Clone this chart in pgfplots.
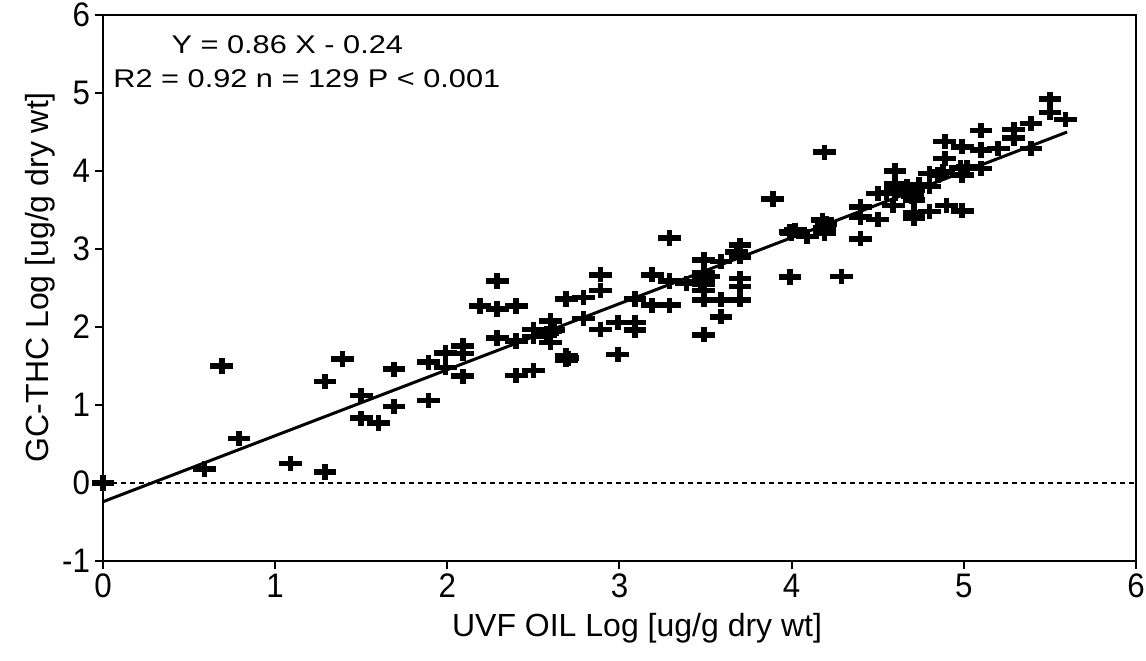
\documentclass[border=0pt]{standalone}
\usepackage{pgfplots}
\pgfplotsset{compat=1.18}
\usepackage{fontspec}
\setmainfont{Liberation Sans}
\newfontfamily\annfont{Liberation Sans}[FakeStretch=1.2]
\newfontfamily\tickfont{Liberation Sans}[FakeStretch=0.92]
\begin{document}
\begin{tikzpicture}
\begin{axis}[
  at={(0,0)}, anchor=south west,
  scale only axis, width=516.5pt, height=273pt,
  xmin=0, xmax=6, ymin=-1, ymax=6,
  xtick={0,1,2,3,4,5,6}, xticklabels={0,1,2,3,4,5,6},
  ytick={-1,0,1,2,3,4,5,6}, yticklabels={-1,0,1,2,3,4,5,6},
  xtick pos=bottom, ytick pos=left,
  tick align=outside, major tick length=4pt,
  ticklabel style={font=\tickfont\fontsize{17}{19}\selectfont},
  xticklabel style={yshift=1pt},
  yticklabel style={xshift=1pt},
  label style={font=\fontsize{16}{19}\selectfont},
  xlabel={UVF OIL Log [ug/g dry wt]},
  ylabel={GC-THC Log [ug/g dry wt]},
  xlabel style={at={(axis description cs:0.517,-0.123)}, anchor=center},
  ylabel style={at={(axis description cs:-0.061,0.52)}, anchor=center},
  axis line style={line width=1.1pt},
  every tick/.style={black, line width=1pt},
  clip=false,
]
\addplot[black, line width=0.8pt, dash pattern=on 2.5pt off 2pt] coordinates {(0,0) (6,0)};
\addplot[black, line width=1.5pt] coordinates {(0,-0.24) (5.6,4.5)};
\addplot[only marks, mark=+, mark size=3.8pt, mark options={black, line width=2.8pt, xscale=1.5}] table {
x y
0 0
0.59 0.18
0.69 1.50
0.79 0.57
1.09 0.25
1.29 0.14
1.29 1.30
1.39 1.59
1.50 1.12
1.50 0.83
1.60 0.77
1.69 1.46
1.69 0.98
1.89 1.55
1.89 1.06
1.99 1.67
1.99 1.48
2.09 1.76
2.09 1.66
2.09 1.37
2.19 2.27
2.29 2.59
2.29 2.23
2.40 2.27
2.29 1.86
2.40 1.82
2.40 1.38
2.50 1.44
2.50 1.97
2.50 1.88
2.60 2.08
2.60 1.94
2.60 1.80
2.69 1.63
2.69 1.58
2.69 2.36
2.79 2.38
2.79 2.11
2.89 2.67
2.89 2.47
2.89 1.97
2.99 1.65
2.99 2.06
3.09 2.06
3.09 1.96
3.09 2.36
3.19 2.28
3.19 2.67
3.29 2.28
3.29 2.59
3.29 3.14
3.39 2.56
3.49 2.86
3.49 2.69
3.49 2.62
3.49 2.55
3.49 2.47
3.49 2.35
3.49 1.90
3.59 2.84
3.59 2.35
3.59 2.13
3.70 3.05
3.70 2.90
3.70 2.62
3.70 2.52
3.70 2.35
3.89 3.64
3.99 3.22
3.99 2.64
4.09 3.16
4.18 3.37
4.19 3.27
4.19 3.20
4.19 4.24
4.29 2.65
4.40 3.13
4.40 3.54
4.40 3.41
4.50 3.38
4.50 3.71
4.60 4.00
4.60 3.84
4.60 3.71
4.59 3.56
4.67 3.80
4.71 3.76
4.71 3.63
4.71 3.46
4.71 3.39
4.80 3.48
4.80 3.80
4.80 3.97
4.90 3.56
4.99 3.49
4.89 4.16
4.89 4.38
4.88 3.99
4.99 4.31
4.99 3.95
4.98 4.04
5.10 4.52
5.10 4.27
5.10 4.03
5.20 4.29
5.29 4.53
5.29 4.42
5.39 4.61
5.39 4.29
5.50 4.92
5.50 4.75
5.59 4.66
3.52 2.65
3.47 2.58
4.65 3.75
4.68 3.70
4.62 3.78
4.74 3.82
4.70 3.68
4.00 3.20
4.02 3.24
2.58 1.92
2.62 1.96
4.85 3.95
5.02 4.05
3.68 2.96
4.20 3.32
4.55 3.72
2.70 1.60
};
\node[anchor=base west, inner sep=0pt, font=\annfont\fontsize{12.8}{15}\selectfont] at (rel axis cs:0.066,0.930) {Y = 0.86 X - 0.24};
\node[anchor=base west, inner sep=0pt, font=\annfont\fontsize{12.8}{15}\selectfont] at (rel axis cs:0.0097,0.868) {R2 = 0.92 n = 129 P < 0.001};
\end{axis}
\pgfresetboundingbox
\path (-51.5pt,-49.5pt) rectangle (521.5pt,280.5pt);
\end{tikzpicture}
\end{document}
